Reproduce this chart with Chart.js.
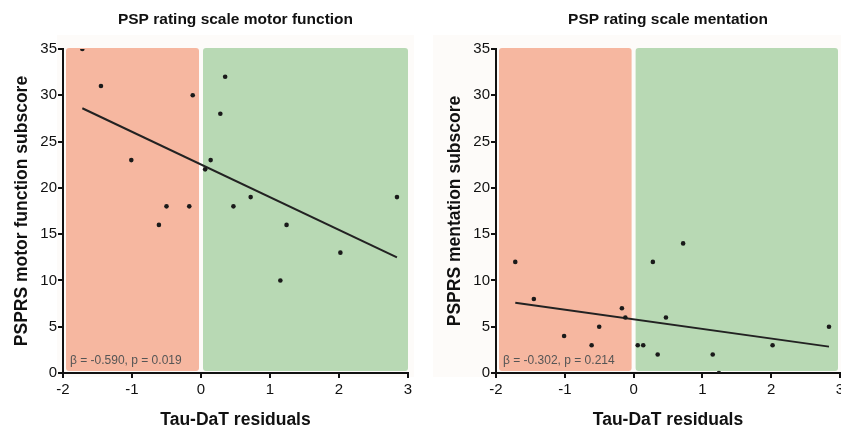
<!DOCTYPE html>
<html>
<head>
<meta charset="utf-8">
<script src="https://cdn.jsdelivr.net/npm/chart.js@4/dist/chart.umd.min.js"></script>
<style>
  html, body { margin: 0; padding: 0; background: #fff; overflow: hidden; }
  body { width: 841px; height: 432px; position: relative; }
  .box { position: absolute; top: 0; height: 432px; }
  #left { left: 0; width: 420px; }
  #right { left: 420px; width: 440px; }
</style>
</head>
<body>
<div class="box" id="left"><canvas id="motorChart"></canvas></div>
<div class="box" id="right"><canvas id="mentChart"></canvas></div>
<script>
// Tau-DaT residuals per patient (shared by both panels)
const residuals = [-1.72, -1.45, -1.01, -0.61, -0.50, -0.17, -0.12, 0.06, 0.14, 0.28, 0.35, 0.47, 0.72, 1.15, 1.24, 2.02, 2.84];
const motorScores = [35, 31, 23, 16, 18, 18, 30, 22, 23, 28, 32, 18, 19, 10, 16, 13, 19];
const mentationScores = [12, 8, 4, 3, 5, 7, 6, 3, 3, 12, 2, 6, 14, 2, 0, 3, 5];

// regression line ends
const fitX = [-1.72, 2.84];
const fitMotor = [28.6, 12.5];
const fitMentation = [7.6, 2.85];

const xTicks = [-2, -1, 0, 1, 2, 3];
const yTicks = [0, 5, 10, 15, 20, 25, 30, 35];

const FONT = "'Liberation Sans', Arial, sans-serif";

// red = negative residuals, green = positive residuals
const regionsPlugin = {
  id: "regions",
  beforeDraw(chart, args, opts) {
    const ctx = chart.ctx;
    const x = chart.scales.x;
    const y = chart.scales.y;
    const area = chart.chartArea;
    ctx.save();
    // faint panel background
    ctx.fillStyle = "#fdfbf9";
    ctx.fillRect(area.left - opts.bgLeft, area.top - 14, area.right - area.left + opts.bgLeft + 6, area.bottom - area.top + 18);

    const top = y.getPixelForValue(35) - 1;
    const bottom = y.getPixelForValue(0) - 2;
    ctx.fillStyle = "#f6b7a0";
    ctx.beginPath();
    ctx.roundRect(x.getPixelForValue(-2) + 3, top, x.getPixelForValue(0) - 2 - (x.getPixelForValue(-2) + 3), bottom - top, 3);
    ctx.fill();
    ctx.fillStyle = "#b8d9b4";
    ctx.beginPath();
    ctx.roundRect(x.getPixelForValue(0) + 2, top, x.getPixelForValue(3) - opts.greenInset - (x.getPixelForValue(0) + 2), bottom - top, 3);
    ctx.fill();

    // statistics text
    ctx.fillStyle = "#555";
    ctx.font = "12px " + FONT;
    ctx.textBaseline = "middle";
    ctx.textAlign = "left";
    ctx.fillText(opts.stats, x.getPixelForValue(-2) + 7, y.getPixelForValue(0) - 12);

    // panel title, centred over the plot area
    ctx.fillStyle = "#111";
    ctx.font = "bold 15.5px " + FONT;
    ctx.textAlign = "center";
    ctx.fillText(opts.title, (area.left + area.right) / 2, 20);
    ctx.restore();
  }
};

function makeChart(id, title, yTitle, scores, fit, stats, yWidth, yTitlePad, padRight, bgLeft, greenInset) {
  const points = residuals.map((r, i) => ({ x: r, y: scores[i] }));
  const line = fitX.map((v, i) => ({ x: v, y: fit[i] }));
  return new Chart(document.getElementById(id), {
    type: "scatter",
    data: {
      datasets: [
        {
          data: points,
          backgroundColor: "#1a1a1a",
          borderColor: "#1a1a1a",
          pointRadius: 2.3,
          pointBorderWidth: 0
        },
        {
          type: "line",
          data: line,
          borderColor: "#222",
          borderWidth: 2,
          pointRadius: 0,
          fill: false
        }
      ]
    },
    options: {
      responsive: true,
      maintainAspectRatio: false,
      animation: false,
      layout: { padding: { top: 49, right: padRight, bottom: 0, left: 0 } },
      plugins: {
        legend: { display: false },
        tooltip: { enabled: false },
        title: { display: false },
        regions: { stats: stats, title: title, bgLeft: bgLeft, greenInset: greenInset }
      },
      scales: {
        x: {
          type: "linear",
          min: -2,
          max: 3,
          afterBuildTicks: (s) => { s.ticks = xTicks.map((v) => ({ value: v })); },
          afterFit: (s) => { s.height = 59; },
          ticks: { color: "#111", font: { family: FONT, size: 15 }, padding: 3, maxRotation: 0, autoSkip: false },
          grid: { display: true, drawOnChartArea: false, drawTicks: true, tickLength: 5, lineWidth: 2, color: "#111" },
          border: { display: true, color: "#111", width: 2 },
          title: {
            display: true,
            text: "Tau-DaT residuals",
            color: "#111",
            font: { family: FONT, size: 17.5, weight: "bold" },
            padding: { top: 0, bottom: 1 }
          }
        },
        y: {
          type: "linear",
          min: 0,
          max: 35,
          afterBuildTicks: (s) => { s.ticks = yTicks.map((v) => ({ value: v })); },
          afterFit: (s) => { s.width = yWidth; },
          ticks: { color: "#111", font: { family: FONT, size: 15 }, padding: 1 },
          grid: { display: true, drawOnChartArea: false, drawTicks: true, tickLength: 5, lineWidth: 2, color: "#111" },
          border: { display: true, color: "#111", width: 2 },
          title: {
            display: true,
            text: yTitle,
            color: "#111",
            font: { family: FONT, size: 17.5, weight: "bold" },
            padding: { top: yTitlePad, bottom: 0 }
          }
        }
      }
    },
    plugins: [regionsPlugin]
  });
}

makeChart("motorChart", "PSP rating scale motor function", "PSPRS motor function subscore",
  motorScores, fitMotor, "\u03b2 = -0.590, p = 0.019", 63, 12, 12, 6, 0);
makeChart("mentChart", "PSP rating scale mentation", "PSPRS mentation subscore",
  mentationScores, fitMentation, "\u03b2 = -0.302, p = 0.214", 76, 25, 20, 63, 2);
</script>
</body>
</html>
